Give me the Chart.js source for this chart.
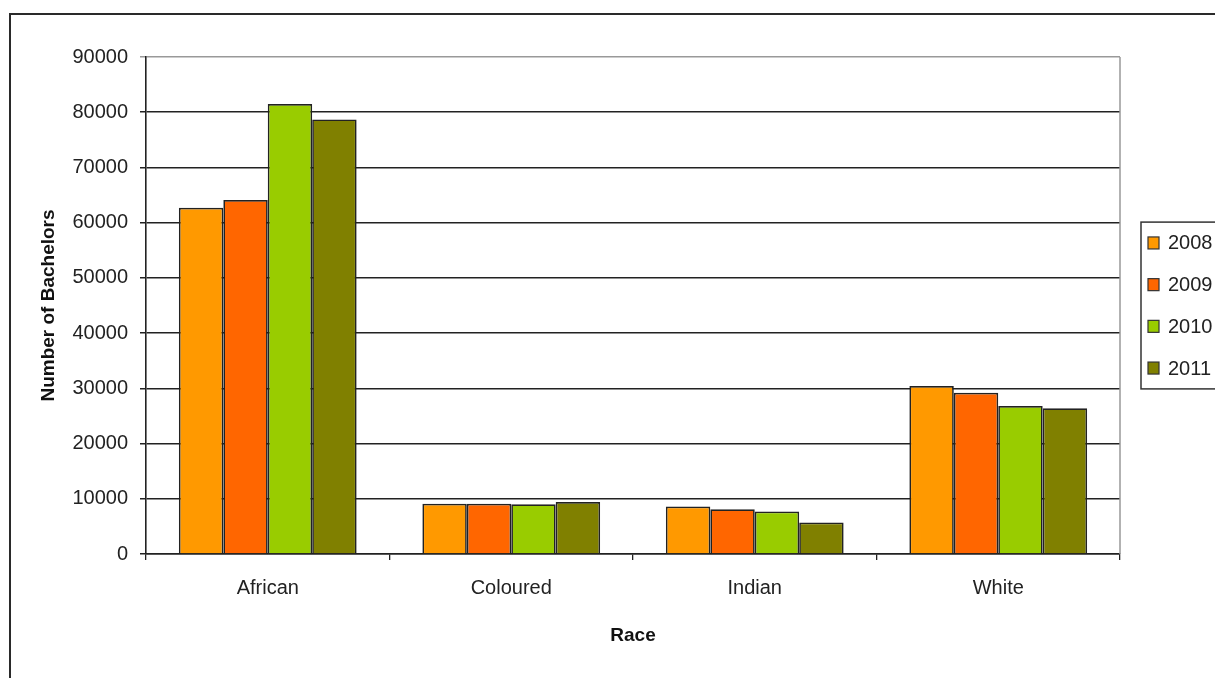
<!DOCTYPE html>
<html>
<head>
<meta charset="utf-8">
<script src="https://cdn.jsdelivr.net/npm/chart.js@4.4.1/dist/chart.umd.min.js"></script>
<style>
  html, body { margin: 0; padding: 0; background: #fff; overflow: hidden; }
  #frame { position: absolute; left: 9px; top: 13px; width: 1400px; height: 900px;
           border-top: 2px solid #2a2a2a; border-left: 2px solid #2a2a2a; }
  #myChart { position: absolute; left: 0; top: 0; }
</style>
</head>
<body>
<div id="frame"></div>
<canvas id="myChart" width="1215" height="678"></canvas>
<script>
const races = ["African", "Coloured", "Indian", "White"]
const years = ["2008", "2009", "2010", "2011"]
const colors = ["#FF9900", "#FF6600", "#99CC00", "#808000"]

const bach2008 = [62700, 9100, 8600, 30400]
const bach2009 = [64100, 9100, 8100, 29200]
const bach2010 = [81500, 9000, 7700, 26800]
const bach2011 = [78700, 9400, 5700, 26400]

const yMin = 0
const yMax = 90000
const yStep = 10000

const seriesValues = [bach2008, bach2009, bach2010, bach2011]

// legend with a box round it, drawn right of the plot
const boxLegend = {
    id: 'boxLegend',
    afterDraw(chart) {
        const ctx = chart.ctx
        const area = chart.chartArea
        const sets = chart.data.datasets
        const rowH = 41.7
        const boxH = rowH * sets.length
        const left = area.right + 21
        const top = (area.top + area.bottom) / 2 - boxH / 2
        ctx.save()
        ctx.strokeStyle = "#333"
        ctx.lineWidth = 1.5
        ctx.strokeRect(left, top, 200, boxH)
        ctx.font = "20px 'Liberation Sans', Arial, sans-serif"
        ctx.textBaseline = "middle"
        sets.forEach((ds, i) => {
            const cy = top + rowH * (i + 0.5)
            ctx.fillStyle = ds.backgroundColor
            ctx.fillRect(left + 7, cy - 6, 11, 12)
            ctx.strokeStyle = "#333"
            ctx.lineWidth = 1.2
            ctx.strokeRect(left + 7, cy - 6, 11, 12)
            ctx.fillStyle = "#222"
            ctx.fillText(ds.label, left + 27, cy + 1)
        })
        // right edge of the plot
        ctx.strokeStyle = "#999"
        ctx.lineWidth = 1.5
        ctx.beginPath()
        ctx.moveTo(area.right, area.top)
        ctx.lineTo(area.right, area.bottom)
        ctx.stroke()
        ctx.restore()
    }
}

const ctx = document.getElementById('myChart').getContext('2d')

const data = {
    labels: races,
    datasets: years.map((y, i) => ({
        label: y,
        data: seriesValues[i],
        backgroundColor: colors[i],
        borderColor: "#222",
        borderWidth: 1.7,
        borderSkipped: 'bottom'
    }))
}

const config = {
    type: 'bar',
    data: data,
    plugins: [boxLegend],
    options: {
        responsive: false,
        animation: false,
        layout: { padding: { top: 57, right: 95, left: 0, bottom: 0 } },
        plugins: {
            legend: { display: false },
            tooltip: { enabled: false }
        },
        datasets: {
            bar: { categoryPercentage: 0.73, barPercentage: 1.0 }
        },
        scales: {
            x: {
                afterFit: (scale) => { scale.height = 124 },
                grid: {
                    offset: true,
                    drawOnChartArea: false,
                    drawTicks: true,
                    tickLength: 6,
                    color: "#222",
                    lineWidth: 1.3
                },
                border: { color: "#222", width: 1.6 },
                ticks: {
                    padding: 16,
                    color: "#222",
                    font: { family: "'Liberation Sans', Arial, sans-serif", size: 20 }
                },
                title: {
                    display: true,
                    text: "Race",
                    color: "#111",
                    padding: { top: 0, bottom: 31 },
                    font: { family: "'Liberation Sans', Arial, sans-serif", size: 19, weight: 'bold' }
                }
            },
            y: {
                min: yMin,
                max: yMax,
                afterFit: (scale) => { scale.width = 146 },
                grid: {
                    drawTicks: true,
                    tickLength: 6,
                    color: (c) => c.tick && c.tick.value === yMax ? "#999" : "#222",
                    lineWidth: 1.5
                },
                border: { color: "#222", width: 1.6 },
                ticks: {
                    stepSize: yStep,
                    padding: 12,
                    color: "#222",
                    font: { family: "'Liberation Sans', Arial, sans-serif", size: 20 },
                    callback: (v) => String(v)
                },
                title: {
                    display: true,
                    text: "Number of Bachelors",
                    color: "#111",
                    padding: { top: 37, bottom: 0 },
                    font: { family: "'Liberation Sans', Arial, sans-serif", size: 19, weight: 'bold' }
                }
            }
        }
    }
}

const myChart = new Chart(ctx, config)
</script>
</body>
</html>
